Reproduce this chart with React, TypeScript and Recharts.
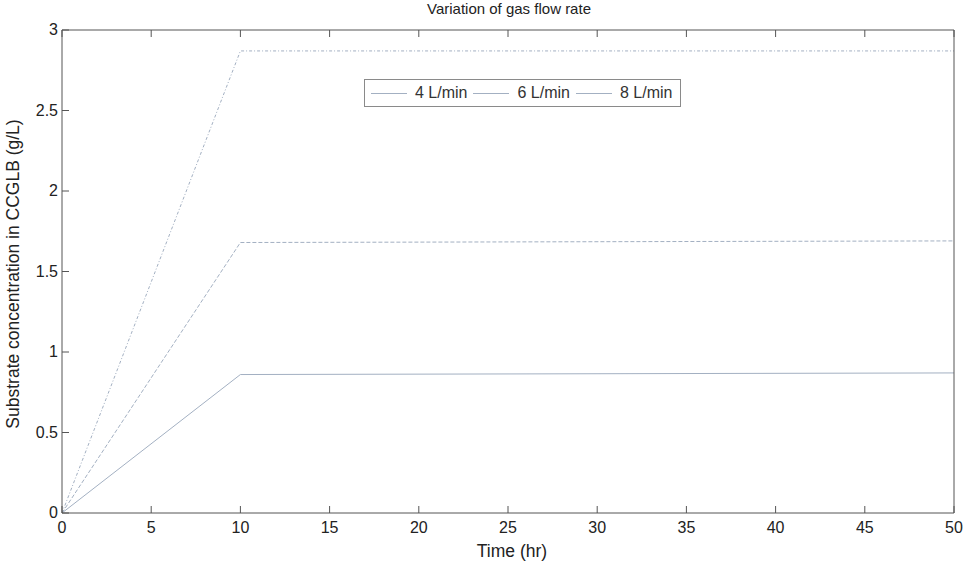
import React from 'react';
import { LineChart, Line, XAxis, YAxis } from 'recharts';

const timeHr = [0, 10, 50];
const flow4 = [0, 0.86, 0.87];
const flow6 = [0, 1.68, 1.69];
const flow8 = [0, 2.87, 2.87];
const xTicks = [0, 5, 10, 15, 20, 25, 30, 35, 40, 45, 50];
const yTicks = [0, 0.5, 1, 1.5, 2, 2.5, 3];

const seriesNames = ['4 L/min', '6 L/min', '8 L/min'];

const data = timeHr.map((t, i) => ({ t, f4: flow4[i], f6: flow6[i], f8: flow8[i] }));

const FONT = '"Liberation Sans", Arial, sans-serif';
const AXIS = '#555';
const LINE = '#a3b0c2';
const TICK = 7;

// MATLAB style ticks: short marks pointing into the plot box
const BottomTick = ({ x, y, payload }: any) => (
    <g>
        <line x1={x} y1={y} x2={x} y2={y - TICK} stroke={AXIS} />
        <text x={x} y={y + 20} textAnchor="middle" fontSize={16} fill="#222" fontFamily={FONT}>
            {payload.value}
        </text>
    </g>
);
const LeftTick = ({ x, y, payload }: any) => (
    <g>
        <line x1={x} y1={y} x2={x + TICK} y2={y} stroke={AXIS} />
        <text x={x - 4} y={y + 5} textAnchor="end" fontSize={16} fill="#222" fontFamily={FONT}>
            {payload.value}
        </text>
    </g>
);
const TopTick = ({ x, y }: any) => <line x1={x} y1={y} x2={x} y2={y + TICK} stroke={AXIS} />;
const RightTick = ({ x, y }: any) => <line x1={x} y1={y} x2={x - TICK} y2={y} stroke={AXIS} />;

const LegendBox = () => (
    <div
        style={{
            position: 'absolute',
            left: 364,
            top: 79,
            display: 'flex',
            alignItems: 'center',
            border: '1px solid #8a8a8a',
            background: '#fff',
            height: 28,
            padding: '0 8px 0 4px',
            fontSize: 16,
            color: '#333',
            boxSizing: 'border-box',
        }}
    >
        {seriesNames.map((n, i) => (
            <div key={n} style={{ display: 'flex', alignItems: 'center', marginLeft: i === 0 ? 2 : 6 }}>
                <div style={{ width: 36, borderTop: `1px solid ${LINE}`, marginRight: 8 }} />
                <span>{n}</span>
            </div>
        ))}
    </div>
);

export default function App() {
    return (
        <div style={{ position: 'absolute', left: 0, top: 0, width: 963, height: 568, background: '#fff', fontFamily: FONT }}>
            <LineChart width={963} height={568} data={data} margin={{ top: 29, right: 8, bottom: 25, left: 22 }}>
                <XAxis
                    xAxisId="b"
                    dataKey="t"
                    type="number"
                    domain={[0, 50]}
                    ticks={xTicks}
                    height={30}
                    tickSize={0}
                    tickMargin={0}
                    tickLine={false}
                    stroke={AXIS}
                    tick={<BottomTick />}
                    allowDataOverflow
                />
                <XAxis
                    xAxisId="t"
                    orientation="top"
                    dataKey="t"
                    type="number"
                    domain={[0, 50]}
                    ticks={xTicks}
                    height={1}
                    tickSize={0}
                    tickMargin={0}
                    tickLine={false}
                    stroke={AXIS}
                    tick={<TopTick />}
                />
                <YAxis
                    yAxisId="l"
                    type="number"
                    domain={[0, 3]}
                    ticks={yTicks}
                    width={40}
                    tickSize={0}
                    tickMargin={0}
                    tickLine={false}
                    stroke={AXIS}
                    tick={<LeftTick />}
                    allowDataOverflow
                />
                <YAxis
                    yAxisId="r"
                    orientation="right"
                    type="number"
                    domain={[0, 3]}
                    ticks={yTicks}
                    width={1}
                    tickSize={0}
                    tickMargin={0}
                    tickLine={false}
                    stroke={AXIS}
                    tick={<RightTick />}
                />
                <Line xAxisId="b" yAxisId="l" dataKey="f4" name={seriesNames[0]} stroke={LINE} strokeWidth={1} dot={false} isAnimationActive={false} />
                <Line xAxisId="b" yAxisId="l" dataKey="f6" name={seriesNames[1]} stroke={LINE} strokeWidth={1} strokeDasharray="4 2" dot={false} isAnimationActive={false} />
                <Line xAxisId="b" yAxisId="l" dataKey="f8" name={seriesNames[2]} stroke={LINE} strokeWidth={1} strokeDasharray="3 2 1 2" dot={false} isAnimationActive={false} />
            </LineChart>
            <LegendBox />
            <div style={{ position: 'absolute', left: 0, width: 963, top: 0, textAlign: 'center', fontSize: 15, color: '#222' }}>
                <span style={{ marginLeft: 55 }}>Variation of gas flow rate</span>
            </div>
            <div style={{ position: 'absolute', left: 512 - 80, width: 160, top: 541, textAlign: 'center', fontSize: 17.5, color: '#222' }}>
                Time (hr)
            </div>
            <div
                style={{
                    position: 'absolute',
                    left: 13 - 200,
                    top: 274 - 11,
                    width: 400,
                    height: 22,
                    lineHeight: '22px',
                    textAlign: 'center',
                    fontSize: 17.5,
                    color: '#222',
                    transform: 'rotate(-90deg)',
                }}
            >
                Substrate concentration in CCGLB (g/L)
            </div>
        </div>
    );
}
